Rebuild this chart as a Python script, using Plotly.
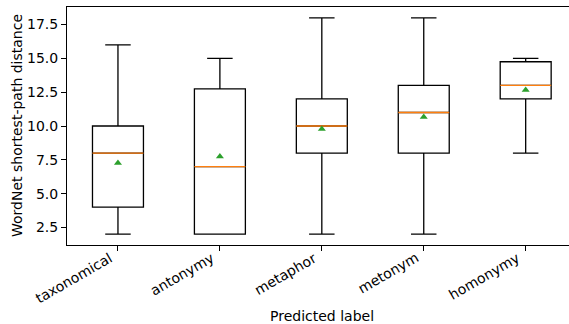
import plotly.graph_objects as go

categories = ["taxonomical", "antonymy", "metaphor", "metonym", "homonymy"]
lower = [2, 2, 2, 2, 8]
q1 = [4, 2, 8, 8, 12]
median = [8, 7, 10, 11, 13]
q3 = [10, 12.75, 12, 13, 14.75]
upper = [16, 15, 18, 18, 15]
mean = [7.27, 7.75, 9.78, 10.67, 12.67]
y_ticks = [2.5, 5, 7.5, 10, 12.5, 15, 17.5]

positions = list(range(1, len(categories) + 1))
FONT = "DejaVu Sans"
BOXW = 0.5
W, H = 569, 324
ML, MT, MB = 67, 7, 79

fig = go.Figure()
fig.add_trace(go.Box(
    x=positions, q1=q1, median=median, q3=q3,
    lowerfence=lower, upperfence=upper,
    width=BOXW, whiskerwidth=0.5,
    line=dict(color="black", width=1.3),
    fillcolor="rgba(0,0,0,0)",
    boxpoints=False, showlegend=False, hoverinfo="skip",
))

mx, my = [], []
for p, m in zip(positions, median):
    mx += [p - BOXW / 2, p + BOXW / 2, None]
    my += [m, m, None]
fig.add_trace(go.Scatter(x=mx, y=my, mode="lines",
                         line=dict(color="#ff7f0e", width=1.3),
                         showlegend=False, hoverinfo="skip"))
fig.add_trace(go.Scatter(x=positions, y=mean, mode="markers",
                         marker=dict(symbol="triangle-up", color="#2ca02c", size=7),
                         showlegend=False, hoverinfo="skip"))

# rotated x tick labels (right-aligned at tick, like matplotlib ha='right')
for p, lab in zip(positions, categories):
    fig.add_annotation(x=p, xref="x", y=0, yref="paper", text=lab, showarrow=False,
                       textangle=-30, xanchor="right", yanchor="top", yshift=-2,
                       font=dict(family=FONT, size=14, color="black"))

plot_w = W - ML
fig.add_annotation(x=(321.7 - ML) / plot_w, xref="paper", y=0, yref="paper",
                   text="Predicted label", showarrow=False, xanchor="center",
                   yanchor="middle", yshift=-(316 - (H - MB)),
                   font=dict(family=FONT, size=14, color="black"))
fig.add_annotation(x=0, xref="paper", y=0.5, yref="paper", xshift=-(ML - 17),
                   text="WordNet shortest-path distance", showarrow=False,
                   textangle=-90, xanchor="center", yanchor="middle",
                   font=dict(family=FONT, size=14, color="black"))

fig.update_layout(
    width=W, height=H,
    margin=dict(l=ML, r=0, t=MT, b=MB, autoexpand=False),
    paper_bgcolor="white", plot_bgcolor="white",
    font=dict(family=FONT, size=14, color="black"),
    xaxis=dict(
        range=[0.5, 5.425], tickmode="array", tickvals=positions, showticklabels=False,
        showline=True, linecolor="black", linewidth=1, mirror=True,
        ticks="outside", ticklen=5, tickcolor="black", showgrid=False, zeroline=False,
        automargin=False,
    ),
    yaxis=dict(
        range=[1.2, 18.8], tickmode="array", tickvals=y_ticks,
        ticktext=[f"{v:.1f}" for v in y_ticks],
        showline=True, linecolor="black", linewidth=1, mirror=False,
        ticks="outside", ticklen=5, tickcolor="black", showgrid=False, zeroline=False,
        tickfont=dict(size=14), automargin=False,
    ),
)

fig.write_html("out.html", config={"displayModeBar": False},
               post_script="document.body.style.margin='0';document.body.style.overflow='hidden';")
